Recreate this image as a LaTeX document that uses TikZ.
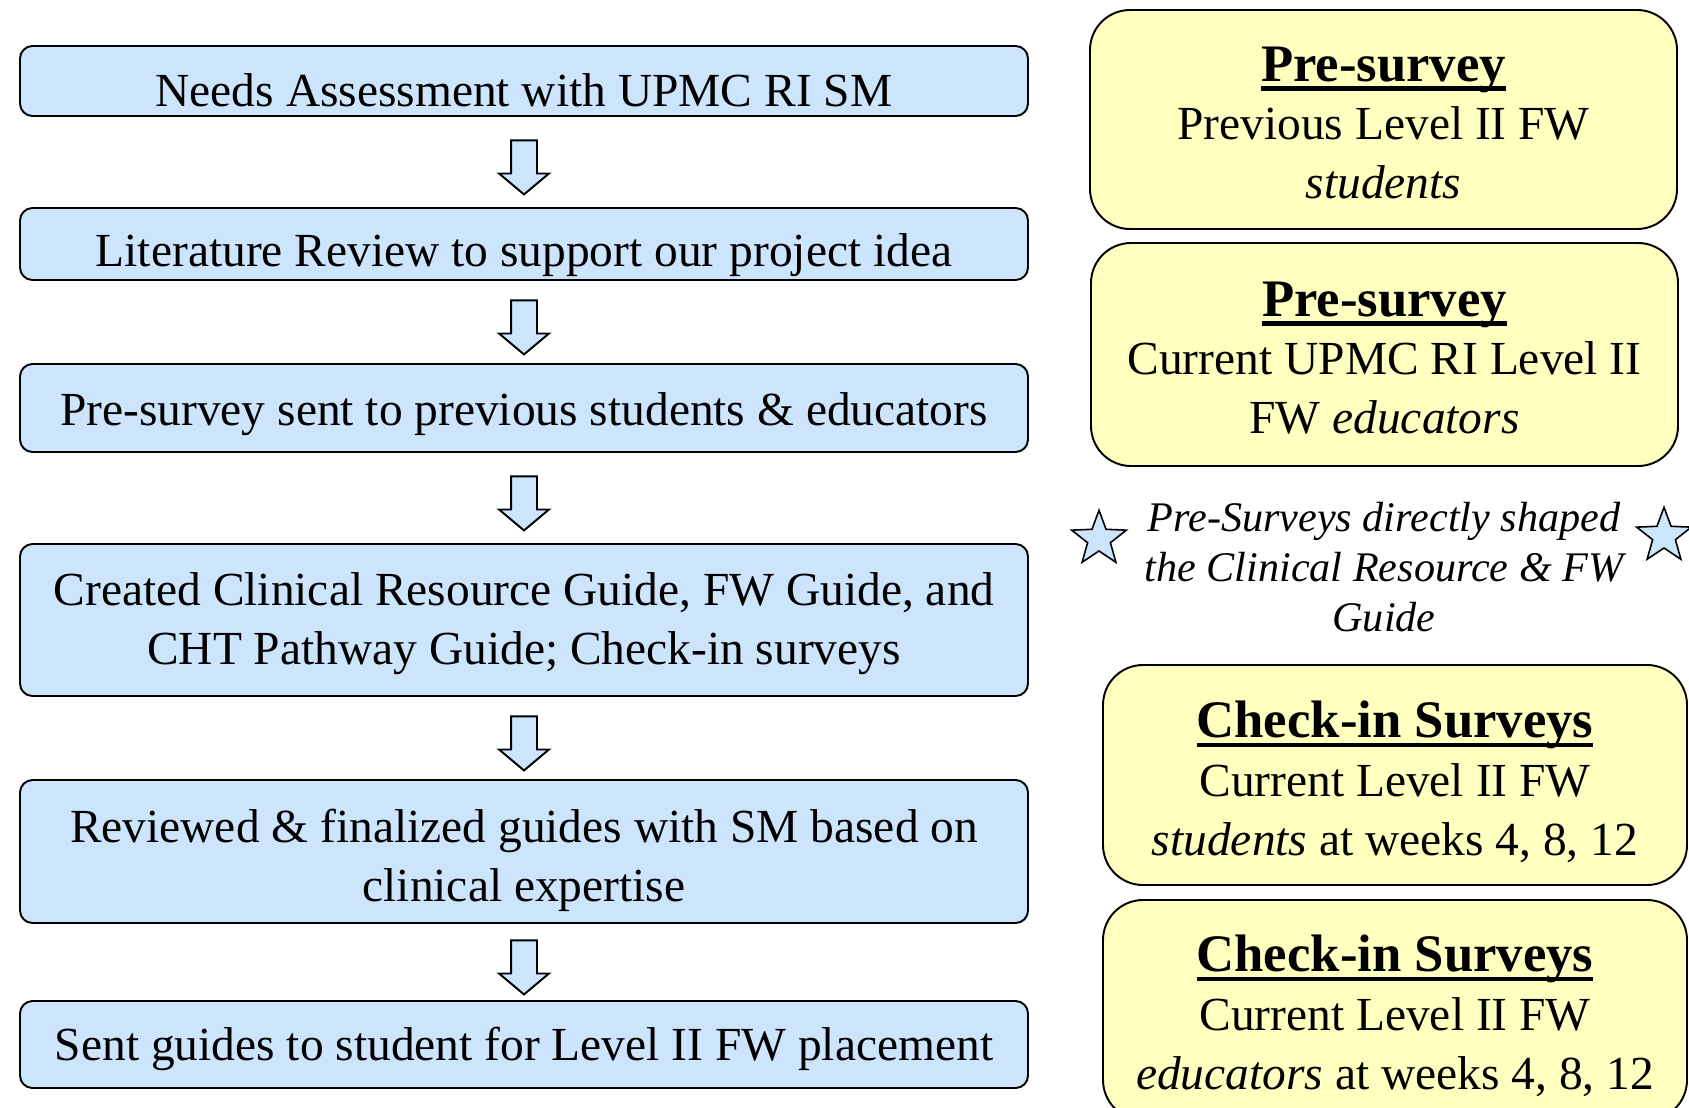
\documentclass[tikz,border=0pt]{standalone}
\usepackage{fontspec}
\setmainfont{Liberation Serif}
\usetikzlibrary{arrows.meta,positioning,calc,shapes.arrows,shapes.geometric}

\definecolor{stepblue}{RGB}{204,228,252}
\definecolor{noteyellow}{RGB}{255,255,192}

% bold heading with a heavy underline
\newcommand{\survhead}[1]{{\fontsize{30}{34}\selectfont\bfseries\setbox0\hbox{#1}\rlap{\rule[-0.19em]{\wd0}{0.09em}}\box0}}

\begin{document}
\begin{tikzpicture}[every node/.style={font=\fontsize{27}{33.5}\selectfont},
  stepbox/.style={rectangle, rounded corners=0.25cm, draw, line width=1.1pt, fill=stepblue, minimum width=20.16cm, inner sep=0pt},
  notebox/.style={rectangle, rounded corners=0.8cm, draw, line width=1.1pt, fill=noteyellow, minimum width=11.74cm, inner sep=0pt},
  boxtext/.style={align=center, inner sep=0pt},
  downarrow/.style={single arrow, draw, line width=1.1pt, fill=stepblue, rotate=-90, minimum height=1.08cm, minimum width=0.96cm, single arrow head extend=0.24cm, single arrow tip angle=100, inner xsep=0pt, inner ysep=0.24cm},
  bluestar/.style={star, star points=5, star point ratio=2.4, draw, line width=0.9pt, fill=stepblue, minimum size=1.15cm, inner sep=0pt}]

\path[use as bounding box, clip] (0,0) rectangle (33.78,-22.14);

  % Left side: project steps

\node (s1) at (10.48,-1.62) [stepbox, minimum height=1.4cm] {};
\node (s2) at (10.48,-4.88) [stepbox, minimum height=1.44cm] {};
\node (s3) at (10.48,-8.16) [stepbox, minimum height=1.76cm] {};
\node (s4) at (10.48,-12.4) [stepbox, minimum height=3.04cm] {};
\node (s5) at (10.48,-17.03) [stepbox, minimum height=2.86cm] {};
\node (s6) at (10.48,-20.89) [stepbox, minimum height=1.74cm] {};

\node (s1t) at ([yshift=-0.19cm]s1.center) [boxtext] {Needs Assessment with UPMC RI SM};
\node (s2t) at ([yshift=-0.22cm]s2.center) [boxtext] {Literature Review to support our project idea};
\node (s3t) at ([yshift=-0.12cm]s3.center) [boxtext] {Pre-survey sent to previous students \& educators};
\node (s4t) at ([yshift=-0.07cm]s4.center) [boxtext] {Created Clinical Resource Guide, FW Guide, and\\CHT Pathway Guide; Check-in surveys};
\node (s5t) at ([yshift=-0.17cm]s5.center) [boxtext] {Reviewed \& finalized guides with SM based on\\clinical expertise};
\node (s6t) at ([yshift=-0.08cm]s6.center) [boxtext] {Sent guides to student for Level II FW placement};

\node (a1) at ($(s1.south)!0.5!(s2.north)$) [downarrow] {};
\node (a2) at ($(s2.south)!0.5!(s3.north)$) [downarrow] {};
\node (a3) at ($(s3.south)!0.5!(s4.north)$) [downarrow] {};
\node (a4) at ($(s4.south)!0.5!(s5.north)$) [downarrow] {};
\node (a5) at ($(s5.south)!0.5!(s6.north)$) [downarrow] {};

% Right side: surveys

\node (pre1) at (27.67,-2.39) [notebox, minimum height=4.38cm] {};
\node (pre2) at (27.69,-7.09) [notebox, minimum height=4.46cm] {};
\node (chk1) at (27.9,-15.5) [notebox, minimum width=11.68cm, minimum height=4.4cm] {};
\node (chk2) at (27.9,-20.2) [notebox, minimum width=11.68cm, minimum height=4.4cm] {};

\node (pre1t) at ([yshift=-0.07cm]pre1.center) [boxtext] {\survhead{Pre-survey}\\Previous Level II FW\\\textit{students}};
\node (pre2t) at ([yshift=-0.07cm]pre2.center) [boxtext] {\survhead{Pre-survey}\\Current UPMC RI Level II\\FW \textit{educators}};
\node (chk1t) at ([yshift=-0.13cm]chk1.center) [boxtext] {\survhead{Check-in Surveys}\\Current Level II FW\\\textit{students} at weeks 4, 8, 12};
\node (chk2t) at ([yshift=-0.11cm]chk2.center) [boxtext] {\survhead{Check-in Surveys}\\Current Level II FW\\\textit{educators} at weeks 4, 8, 12};

\node (shaped) at (27.68,-11.34) [font=\fontsize{24}{28.5}\selectfont\itshape, align=center] {Pre-Surveys directly shaped\\the Clinical Resource \& FW\\Guide};
\node (starL) at (21.98,-10.78) [bluestar] {};
\node (starR) at (33.28,-10.72) [bluestar] {};

\end{tikzpicture}
\end{document}
